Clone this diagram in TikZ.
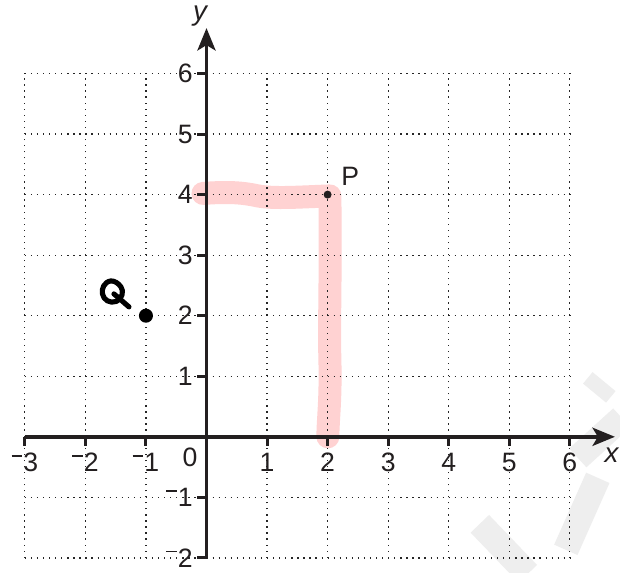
\documentclass[tikz,border=0pt]{standalone}
\usepackage{fontspec}
\setmainfont{Liberation Sans}
\usetikzlibrary{arrows.meta}
\definecolor{axiscol}{RGB}{35,31,32}
\definecolor{hl}{RGB}{255,210,210}
\definecolor{wm}{RGB}{238,238,238}
\newcommand{\mn}{\rule[0.56em]{0.4em}{0.065em}\kern0.04em}
\begin{document}
\begin{tikzpicture}[x=1cm,y=1cm,
  gridline/.style={line width=0.6pt, dash pattern=on 0.6pt off 2.245pt, black!85},
  axis/.style={line width=1.7pt, axiscol, -{Stealth[length=10.5pt,width=8.5pt,inset=2.5pt]}},
  tickmark/.style={line width=1.4pt, axiscol},
  ticklabel/.style={inner sep=0pt, font=\fontsize{12.5}{15}\selectfont, text=axiscol},
  axislabel/.style={inner sep=0pt, font=\fontsize{13}{15}\selectfont\itshape, text=axiscol},
  highlight/.style={line width=10.8pt, hl, line cap=round, line join=round},
  wmark/.style={wm, line width=7pt},
  px/.style={xshift=-3.4104cm, yshift=7.2139cm, x=0.016515cm, y=-0.016515cm}]
\useasboundingbox (-3.4104,-2.2328) rectangle (6.8289,7.2139);
\fill[white] (-3.4104,-2.2328) rectangle (6.8289,7.2139);
% watermark
\begin{scope}[px]
  \draw[wmark] (588,378) -- (611,397);
  \draw[wmark, line width=12pt] (622,418) -- (578,458);
  \draw[wmark, line width=12pt] (598,478) -- (566,550);
  \draw[wmark, line width=12pt] (480,524) -- (528,574);
\end{scope}
% highlighter stroke
\begin{scope}[px]
  \draw[highlight] (203,193.5) .. controls (225,192) and (240,192) .. (258,196)
     .. controls (275,199) and (300,197) .. (330,196)
     .. controls (331,280) and (329,320) .. (330,360)
     .. controls (331,400) and (328,420) .. (328,437);
\end{scope}
% grid
\draw[gridline] (-3,-2) grid (6,6);
% axes
\coordinate (xstart) at (-3,0);
\coordinate (xend) at (6.745,0);
\coordinate (ystart) at (0,-2);
\coordinate (yend) at (0,6.75);
\draw[axis] (xstart) -- (xend);
\draw[axis] (ystart) -- (yend);
% ticks and labels
\foreach \v/\t in {-3/\mn3,-2/\mn2,-1/\mn1,1/1,2/2,3/3,4/4,5/5,6/6}{
  \draw[tickmark] (\v,0) -- (\v,-0.15);
  \node[ticklabel, anchor=north] (xl\v) at (\v,-0.263) {\t};
}
\foreach \v/\t in {-2/\mn2,-1/\mn1,1/1,2/2,3/3,4/4,5/5,6/6}{
  \draw[tickmark] (0,\v) -- (-0.165,\v);
  \node[ticklabel, anchor=east] (yl\v) at (-0.223,\v) {\t};
}
\node[ticklabel] (zero) at (-0.272,-0.342) {0};
\node[axislabel, anchor=base] (xlab) at (6.69,-0.418) {x};
\node[axislabel, anchor=base] (ylab) at (-0.107,6.867) {y};
% points
\node[circle, fill=axiscol, inner sep=0pt, minimum size=0.132cm] (P) at (2,4) {};
\node[ticklabel, anchor=base west] (Plab) at (2.221,4.158) {P};
\node[circle, fill=black, inner sep=0pt, minimum size=0.232cm] (Q) at (-1,2) {};
% handwritten Q
\begin{scope}[px, line width=2.4pt, line cap=round, line join=round]
  \draw (111,281) .. controls (104,282) and (101.5,289) .. (102.5,294)
     .. controls (103.5,300) and (110,304) .. (116.5,301.5)
     .. controls (122.5,299) and (124,291) .. (121,287)
     .. controls (118.5,283.5) and (115,281) .. (111,281) -- cycle;
  \draw (114,294) -- (129,307);
\end{scope}
\end{tikzpicture}
\end{document}
